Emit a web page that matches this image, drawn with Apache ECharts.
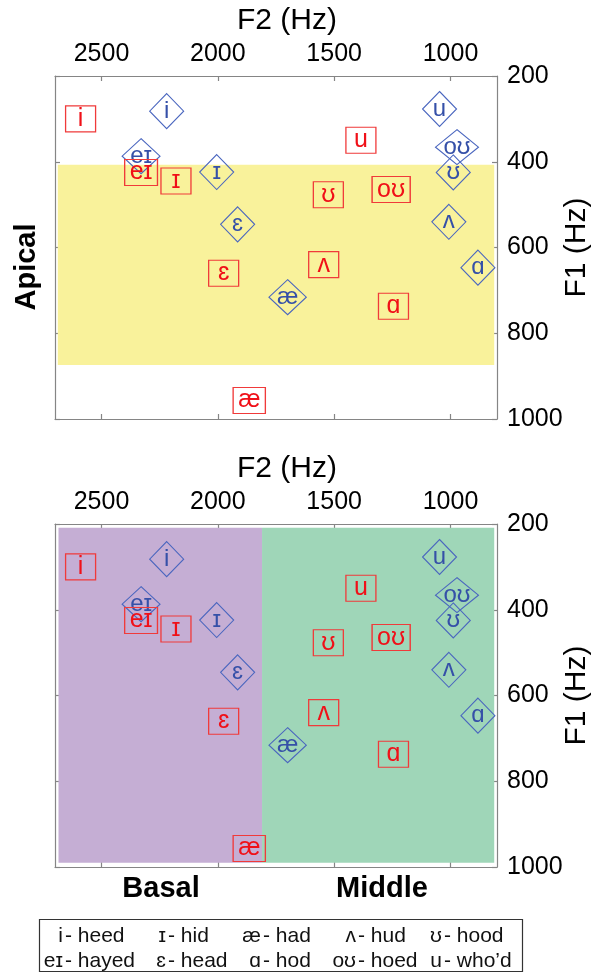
<!DOCTYPE html>
<html>
<head>
<meta charset="utf-8">
<script src="https://cdn.jsdelivr.net/npm/echarts@6/dist/echarts.min.js"></script>
<style>
  html, body { margin: 0; padding: 0; background: #ffffff; }
  #chart { width: 600px; height: 973px; }
</style>
</head>
<body>
<div id="chart"></div>
<script>
// Vowel labels, shared by both panels
const vowelLabels = ['i', 'ɪ', 'eɪ', 'ɛ', 'æ', 'ʌ', 'ɑ', 'ʊ', 'oʊ', 'u'];

// Red squares: formant values (Hz)
const redF2 = [2590, 2180, 2330, 1975, 1865, 1545, 1245, 1525, 1255, 1385];
const redF1 = [300, 445, 425, 660, 957, 640, 737, 477, 465, 350];

// Blue diamonds: formant values (Hz)
const blueF2 = [2220, 2005, 2330, 1915, 1700, 1007, 882, 988, 972, 1047];
const blueF1 = [282, 424, 387, 546, 716, 540, 647, 425, 366, 277];

// Axis ranges and ticks
const f2Range = [800, 2700];
const f1Range = [200, 1000];
const f2Ticks = [1000, 1500, 2000, 2500];
const f1Step = 200;

// Shaded cochlear regions (Hz)
const apicalF2 = [2688, 812];
const apicalF1 = [407, 874];
const basalF2 = [2685, 1810];
const middleF2 = [1810, 812];
const regionF1 = [209, 990];

// Key rows
const keySymbolsRow1 = ['i', 'ɪ', 'æ', 'ʌ', 'ʊ'];
const keyWordsRow1 = ['heed', 'hid', 'had', 'hud', 'hood'];
const keySymbolsRow2 = ['eɪ', 'ɛ', 'ɑ', 'oʊ', 'u'];
const keyWordsRow2 = ['hayed', 'head', 'hod', 'hoed', 'who’d'];

const FONT = '"Liberation Sans", Arial, "DejaVu Sans", sans-serif';
const RED = '#f01018';
const RED_EDGE = '#f03a3a';
const BLUE = '#3550a8';
const BLUE_EDGE = '#4a66bf';
const AXIS_GRAY = '#858585';

const measureCtx = document.createElement('canvas').getContext('2d');
function textWidth(s, size) {
  measureCtx.font = size + 'px ' + FONT;
  return measureCtx.measureText(s).width;
}

const chart = echarts.init(document.getElementById('chart'), null, { renderer: 'canvas' });

const GRID_LEFT = 55, GRID_W = 442, GRID_H = 343;
const gridTops = [76, 524];
const plain = v => String(v);

function axisPair(gridIndex) {
  const common = {
    type: 'value', gridIndex: gridIndex,
    min: f2Range[0], max: f2Range[1], inverse: true,
    axisLine: { show: true, lineStyle: { color: AXIS_GRAY, width: 1.2 } },
    axisTick: { show: true, inside: true, length: 5, customValues: f2Ticks,
                lineStyle: { color: AXIS_GRAY, width: 1.2 } },
    splitLine: { show: false }
  };
  return [
    Object.assign({}, common, {
      position: 'top',
      axisLabel: { show: true, customValues: f2Ticks, margin: 9, formatter: plain,
                   fontSize: 25, color: '#000', fontFamily: FONT }
    }),
    Object.assign({}, common, {
      position: 'bottom',
      axisLabel: { show: false }
    })
  ];
}

function yPair(gridIndex) {
  const common = {
    type: 'value', gridIndex: gridIndex,
    min: f1Range[0], max: f1Range[1], interval: f1Step, inverse: true,
    axisLine: { show: true, lineStyle: { color: AXIS_GRAY, width: 1.2 } },
    axisTick: { show: true, inside: true, length: 5,
                lineStyle: { color: AXIS_GRAY, width: 1.2 } },
    splitLine: { show: false }
  };
  return [
    Object.assign({}, common, {
      position: 'right',
      axisLabel: { show: true, margin: 10, formatter: plain,
                   fontSize: 25, color: '#000', fontFamily: FONT }
    }),
    Object.assign({}, common, {
      position: 'left',
      axisLabel: { show: false }
    })
  ];
}

function redSeries(xIdx, yIdx) {
  return {
    type: 'scatter', xAxisIndex: xIdx, yAxisIndex: yIdx, z: 4,
    symbol: 'rect',
    data: redF2.map((f2, i) => ({
      name: vowelLabels[i],
      value: [f2, redF1[i]],
      symbolSize: [Math.max(30, textWidth(vowelLabels[i], 25) + 10), 26]
    })),
    itemStyle: { color: 'rgba(0,0,0,0)', borderColor: RED_EDGE, borderWidth: 1.2, opacity: 1 },
    label: { show: true, position: 'inside', formatter: '{b}', color: RED,
             fontSize: 25, fontFamily: FONT },
    emphasis: { disabled: true },
    silent: true
  };
}

function blueSeries(xIdx, yIdx) {
  return {
    type: 'scatter', xAxisIndex: xIdx, yAxisIndex: yIdx, z: 3,
    symbol: 'diamond',
    data: blueF2.map((f2, i) => ({
      name: vowelLabels[i],
      value: [f2, blueF1[i]],
      symbolSize: [Math.max(34, textWidth(vowelLabels[i], 24) + 16), 35]
    })),
    itemStyle: { color: 'rgba(0,0,0,0)', borderColor: BLUE_EDGE, borderWidth: 1.1, opacity: 1 },
    label: { show: true, position: 'inside', formatter: '{b}', color: BLUE,
             fontSize: 24, fontFamily: FONT },
    emphasis: { disabled: true },
    silent: true
  };
}

function areaSeries(xIdx, yIdx, areas) {
  return {
    type: 'scatter', xAxisIndex: xIdx, yAxisIndex: yIdx, z: 1,
    data: [], silent: true,
    markArea: {
      silent: true,
      data: areas.map(a => [
        { xAxis: a.f2[0], yAxis: a.f1[0], itemStyle: { color: a.color, opacity: 1 } },
        { xAxis: a.f2[1], yAxis: a.f1[1] }
      ])
    }
  };
}

const xTop = axisPair(0), xBot = axisPair(1);
const yTop = yPair(0), yBot = yPair(1);

function keyGraphics() {
  const dashX = [68, 171, 266, 361, 447];
  const rows = [
    { syms: keySymbolsRow1, words: keyWordsRow1, y: 936 },
    { syms: keySymbolsRow2, words: keyWordsRow2, y: 961 }
  ];
  const out = [{
    type: 'rect', shape: { x: 39.5, y: 919.5, width: 483, height: 52 },
    style: { fill: '#fff', stroke: '#333', lineWidth: 1.2 }
  }];
  rows.forEach(r => {
    r.syms.forEach((s, i) => {
      out.push({
        type: 'text', x: dashX[i] - 5, y: r.y,
        style: { text: s, fontSize: 21, fontFamily: FONT, fill: '#111',
                 align: 'right', verticalAlign: 'middle' }
      });
      out.push({
        type: 'text', x: dashX[i] - 3, y: r.y,
        style: { text: '- ' + r.words[i], fontSize: 21, fontFamily: FONT, fill: '#111',
                 align: 'left', verticalAlign: 'middle' }
      });
    });
  });
  return out;
}

const titleGraphics = [];
gridTops.forEach(top => {
  titleGraphics.push({
    type: 'text', x: 287, y: top - 55,
    style: { text: 'F2 (Hz)', fontSize: 30, fontFamily: FONT, fill: '#000',
             align: 'center', verticalAlign: 'middle' }
  });
  titleGraphics.push({
    type: 'text', x: 577, y: top + GRID_H / 2, rotation: Math.PI / 2,
    style: { text: 'F1 (Hz)', fontSize: 30, fontFamily: FONT, fill: '#000',
             align: 'center', verticalAlign: 'middle' }
  });
});
titleGraphics.push({
  type: 'text', x: 27, y: 267, rotation: Math.PI / 2,
  style: { text: 'Apical', fontSize: 29, fontWeight: 'bold', fontFamily: FONT, fill: '#000',
           align: 'center', verticalAlign: 'middle' }
});
titleGraphics.push({
  type: 'text', x: 161, y: 889,
  style: { text: 'Basal', fontSize: 29, fontWeight: 'bold', fontFamily: FONT, fill: '#000',
           align: 'center', verticalAlign: 'middle' }
});
titleGraphics.push({
  type: 'text', x: 382, y: 889,
  style: { text: 'Middle', fontSize: 29, fontWeight: 'bold', fontFamily: FONT, fill: '#000',
           align: 'center', verticalAlign: 'middle' }
});

chart.setOption({
  animation: false,
  backgroundColor: '#ffffff',
  grid: gridTops.map(t => ({ left: GRID_LEFT, top: t, width: GRID_W, height: GRID_H })),
  xAxis: [xTop[0], xTop[1], xBot[0], xBot[1]],
  yAxis: [yTop[0], yTop[1], yBot[0], yBot[1]],
  series: [
    areaSeries(0, 0, [{ f2: apicalF2, f1: apicalF1, color: '#f9f29b' }]),
    blueSeries(0, 0),
    redSeries(0, 0),
    areaSeries(2, 2, [
      { f2: basalF2, f1: regionF1, color: '#c5aed4' },
      { f2: middleF2, f1: regionF1, color: '#9fd6b8' }
    ]),
    blueSeries(2, 2),
    redSeries(2, 2)
  ],
  graphic: titleGraphics.concat(keyGraphics())
});
</script>
</body>
</html>
